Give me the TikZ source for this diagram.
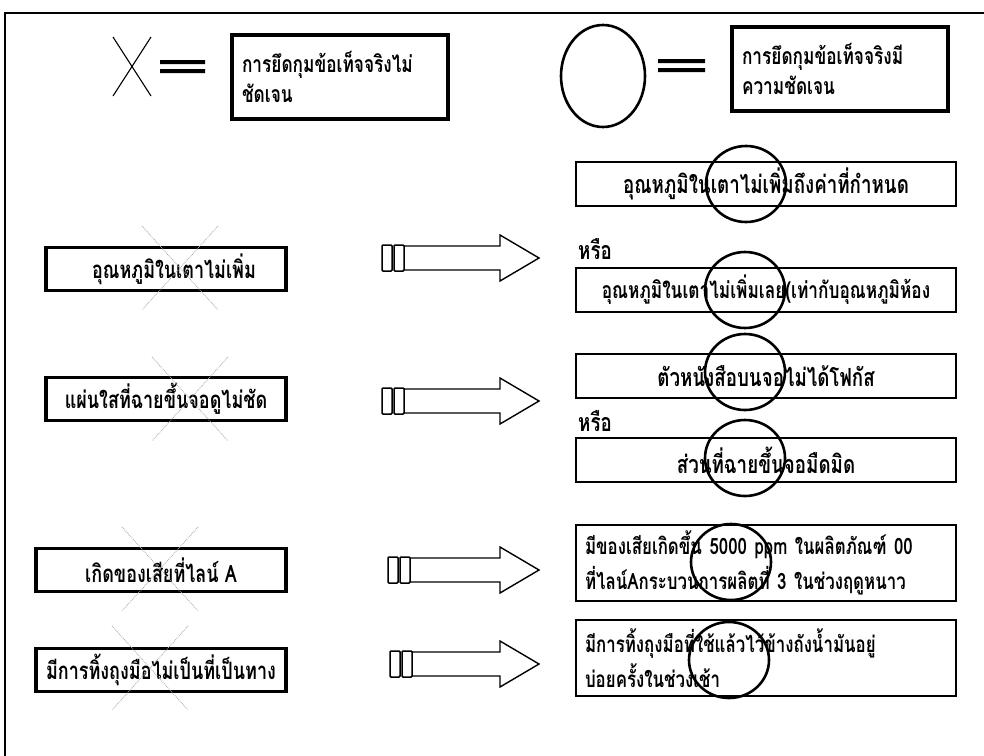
\documentclass[tikz,border=0pt]{standalone}
\usepackage{fontspec}
\newfontfamily\thaifont[Script=Thai,FakeStretch=0.75]{Loma}
\usetikzlibrary{positioning}

% กรอบข้อความและเครื่องหมาย
\tikzset{
	thaitext/.style 2 args={font=\thaifont\bfseries\fontsize{#1}{#2}\selectfont},
	legendbox/.style={draw, line width=3.4pt, minimum width=216pt, minimum height=84pt,
		inner sep=8pt, text width=196pt, align=left, thaitext={23}{30}},
	causebox/.style={draw, line width=3.4pt, minimum width=240pt, minimum height=43pt,
		inner sep=2pt, thaitext={24}{20}},
	factbox/.style={draw, line width=1.5pt, minimum width=380pt, minimum height=44pt,
		inner sep=2pt, thaitext={25}{20}},
	factbox2/.style={factbox, minimum height=76pt, text width=362pt, align=left,
		thaitext={22.5}{35}},
	orlabel/.style={anchor=west, inner sep=0pt, thaitext={25}{20}},
	okmark/.style={line width=2.6pt},
	nomark/.style={gray!70, densely dotted, line width=0.8pt},
}

\begin{document}
\begin{tikzpicture}[x=1pt, y=-1pt]
	\useasboundingbox (0,0) rectangle (984,755);
	% กรอบนอก
	\draw[line width=1.4pt] (5,760) -- (5,13) -- (990,13);
	
	% คำอธิบายเครื่องหมาย
	\draw[line width=1.1pt] (113,37) -- (151,96) (151,37) -- (113,96);
	\fill (160,60) rectangle (205,64) (160,69) rectangle (205,73);
	\node[legendbox] (legendno) at (340,77)
		{การยึดกุมข้อเท็จจริงไม่\\ชัดเจน};
	\draw[okmark] (603,76) ellipse [x radius=42pt, y radius=51pt];
	\fill (658,59) rectangle (705,63) (658,68) rectangle (705,72);
	\node[legendbox] (legendok) at (840,69)
		{การยึดกุมข้อเท็จจริงมี\\ความชัดเจน};
	
	% ปรากฏการณ์ (ซ้าย)
	\node[causebox] (cause1) at (166,269) {\hspace{16pt}อุณหภูมิในเตาไม่เพิ่ม};
	\node[causebox] (cause2) at (166,399) {แผ่นใสที่ฉายขึ้นจอดูไม่ชัด};
	\node[causebox, minimum width=250pt] (cause3) at (161,570) {เกิดของเสียที่ไลน์ A};
	\node[causebox, minimum width=250pt] (cause4) at (161,670) {มีการทิ้งถุงมือไม่เป็นที่เป็นทาง};
	
	% ข้อเท็จจริง (ขวา)
	\node[factbox] (fact1a) at (766,184) {อุณหภูมิในเตาไม่เพิ่มถึงค่าที่กำหนด};
	\node[orlabel] (or1) at (578,249) {หรือ};
	\node[factbox, thaitext={23}{20}] (fact1b) at (766,290)
		{อุณหภูมิในเตาไม่เพิ่มเลย(เท่ากับอุณหภูมิห้อง};
	\node[factbox] (fact2a) at (766,376) {ตัวหนังสือบนจอไม่ได้โฟกัส};
	\node[orlabel] (or2) at (578,421) {หรือ};
	\node[factbox] (fact2b) at (766,460) {ส่วนที่ฉายขึ้นจอมืดมิด};
	\node[factbox2] (fact3) at (766,563)
		{มีของเสียเกิดขึ้น 5000 ppm ในผลิตภัณฑ์ 00\\ที่ไลน์Aกระบวนการผลิตที่ 3 ในช่วงฤดูหนาว};
	\node[factbox2] (fact4) at (766,658)
		{มีการทิ้งถุงมือที่ใช้แล้วไว้ข้างถังน้ำมันอยู่\\บ่อยครั้งในช่วงเช้า};
	
	% ลูกศรหนา
	\foreach \x/\y in {382/258, 382/401, 388/570, 390/664} {
		\draw[line width=1.5pt, rounded corners=1pt] (\x,\y-13) rectangle ++(10,26);
		\draw[line width=1.5pt, rounded corners=1pt] (\x+12,\y-13) rectangle ++(10,26);
		\draw[line width=1.4pt] (\x+22,\y-12) -- (500,\y-12) -- (500,\y-23)
			-- (539,\y) -- (500,\y+23) -- (500,\y+12) -- (\x+22,\y+12);
	}
	
	% กากบาทบนปรากฏการณ์
	\foreach \cx/\cy in {180/268, 190/399, 160/569, 150/668}
		\draw[nomark] (\cx-38,\cy-42) -- (\cx+38,\cy+42) (\cx+38,\cy-42) -- (\cx-38,\cy+42);
	
	% วงกลมบนข้อเท็จจริง
	\foreach \cx/\cy in {746/184, 745/290, 745/372, 745/458, 731/562, 729/660}
		\draw[okmark] (\cx,\cy) ellipse [x radius=40pt, y radius=38pt];
\end{tikzpicture}
\end{document}
